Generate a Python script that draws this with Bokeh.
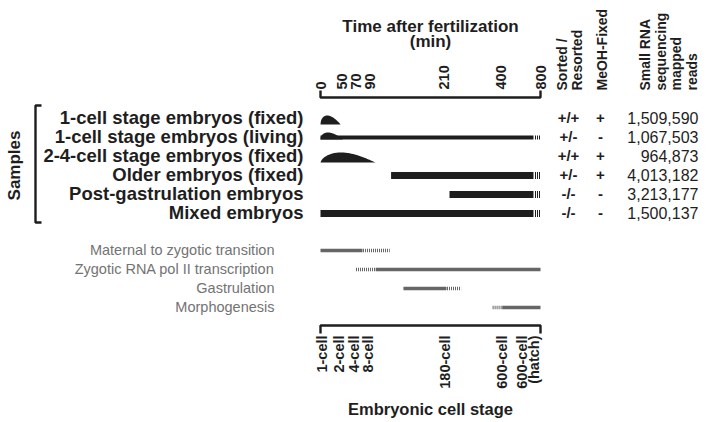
import numpy as np
from bokeh.plotting import figure
from bokeh.models import Range1d
from bokeh.core.properties import value
from bokeh.embed import file_html
from bokeh.resources import INLINE

# ---------------- data ----------------
time_ticks = [0, 50, 70, 90, 210, 400, 800]          # minutes after fertilization
stage_labels = ["1-cell", "2-cell", "4-cell", "8-cell", "180-cell", "600-cell", "600-cell\n(hatch)"]
stage_times = [0, 40, 65, 85, 210, 400, 800]

samples = ["1-cell stage embryos (fixed)", "1-cell stage embryos (living)",
           "2-4-cell stage embryos (fixed)", "Older embryos (fixed)",
           "Post-gastrulation embryos", "Mixed embryos"]
hump_end = [48, 52, 100, None, None, None]            # min (time-distribution hump)
hump_height = [9, 7, 10, 0, 0, 0]                     # relative size of hump
bar_start = [None, 0, None, 125, 230, 0]              # min
bar_solid_end = 730
bar_end = 800
sorted_resorted = ["+/+", "+/-", "+/+", "+/-", "-/-", "-/-"]
meoh_fixed = ["+", "-", "+", "+", "-", "-"]
mapped_reads = [1509590, 1067503, 964873, 4013182, 3213177, 1500137]

phases = ["Maternal to zygotic transition", "Zygotic RNA pol II transcription",
          "Gastrulation", "Morphogenesis"]
phase_solid = [(0, 80), (100, 800), (145, 220), (417, 800)]
phase_dashed = [(80, 122), (70, 100), (220, 267), (372, 417)]

# ---------------- layout helpers ----------------
W, H = 708, 422
AXIS_UNITS = [0, 21, 35, 49, 123, 180, 220]   # piecewise schematic time axis


def u(t):
    return np.interp(t, time_ticks, AXIS_UNITS)


def X(px):
    return px - 320


def Y(py):
    return H - py


FONT = value("Liberation Sans")
BLACK = "#1e1e1e"
GREY_BAR = "#666666"
GREY_TXT = "#737373"

p = figure(width=W, height=H, x_range=Range1d(-320, W - 320), y_range=Range1d(0, H),
           output_backend="svg", toolbar_location=None, min_border=0,
           x_axis_location=None, y_axis_location=None)
p.grid.visible = False
p.outline_line_color = None


def txt(x, y, t, size, bold=False, align="center", baseline="middle", angle=0,
        color=BLACK, lh=1.2):
    p.text(x=x, y=y, text=t, text_font=FONT, text_font_size=f"{size}px",
           text_font_style="bold" if bold else "normal", text_align=align,
           text_baseline=baseline, angle=angle, text_color=color,
           text_line_height=lh)


def striped(x0, x1, yc, width, color):
    # hatched (uncertain) end of a bar: thin vertical stripes
    p.segment(x0=[x0 + 0.5], y0=[yc], x1=[x1 + 0.5], y1=[yc],
              line_color=color, line_width=width, line_dash="1 1")


row_py = [117 + 19 * i for i in range(len(samples))]

# ---------------- brackets ----------------
lw = 2.4
p.line([u(0), u(0), u(800), u(800)], [Y(90), Y(97), Y(97), Y(90)], line_color=BLACK, line_width=lw)
p.line([u(0), u(0), u(800), u(800)], [Y(333), Y(325), Y(325), Y(333)], line_color=BLACK, line_width=lw)
p.line([X(41), X(35), X(35), X(41)], [Y(105), Y(105), Y(222), Y(222)], line_color=BLACK, line_width=lw)

# ---------------- sample rows ----------------
for i, py in enumerate(row_py):
    if bar_start[i] is not None:
        h = 4 if hump_end[i] is not None else 7
        yc = Y(py + 1)
        p.hbar(y=[yc], left=[u(bar_start[i])], right=[u(bar_solid_end)], height=h,
               fill_color=BLACK, line_color=None)
        striped(u(bar_solid_end) + 1, u(bar_end), yc, h, BLACK)
    if hump_end[i] is not None:
        if hump_end[i] > 60:
            a, b = 0.65, 1.1
        else:
            a, b = 0.5, 1.0
        s = np.linspace(0, 1, 80)
        f = s ** a * (1 - s) ** b
        f = f / f.max()
        x0, x1 = u(0), u(hump_end[i])
        base = py + 3 if bar_start[i] is not None else py + 7
        xs = list(x0 + s * (x1 - x0))
        ys = list(Y(base) + hump_height[i] * f)
        p.patch(xs, ys, fill_color=BLACK, line_color=None)

# ---------------- phase rows ----------------
phase_py = [250 + 19 * i for i in range(len(phases))]
for i, py in enumerate(phase_py):
    s0, s1 = phase_solid[i]
    d0, d1 = phase_dashed[i]
    p.hbar(y=[Y(py)], left=[u(s0)], right=[u(s1)], height=3.5, fill_color=GREY_BAR, line_color=None)
    striped(u(d0), u(d1), Y(py), 3.5, GREY_BAR)

# ---------------- texts ----------------
txt([X(430)], [Y(26)], ["Time after fertilization"], 17, bold=True)
txt([X(430)], [Y(41)], ["(min)"], 17, bold=True)
txt(list(u(time_ticks)), [Y(89)] * len(time_ticks), [str(t) for t in time_ticks], 14.5,
    bold=True, align="left", angle=np.pi / 2)

txt([X(569)], [Y(90)], ["Sorted /\nResorted"], 14, bold=True, align="left", angle=np.pi / 2, lh=0.9)
txt([X(601)], [Y(90)], ["MeOH-Fixed"], 14, bold=True, align="left", angle=np.pi / 2)
txt([X(668)], [Y(90)], ["Small RNA\nsequencing\nmapped\nreads"], 14, bold=True, align="left",
    angle=np.pi / 2, lh=0.97)

txt([X(303)] * len(samples), [Y(py) for py in row_py], samples, 18.5, bold=True, align="right")
txt([X(14)], [Y(165)], ["Samples"], 17, bold=True, angle=np.pi / 2)
txt([X(568)] * len(samples), [Y(py) for py in row_py], sorted_resorted, 15, bold=True)
txt([X(600)] * len(samples), [Y(py) for py in row_py], meoh_fixed, 15, bold=True)
txt([X(698)] * len(samples), [Y(py) for py in row_py], [f"{r:,}" for r in mapped_reads], 16,
    align="right")

txt([X(274)] * len(phases), [Y(py - 1) for py in phase_py], phases, 14.5, align="right", color=GREY_TXT)

txt(list(u(stage_times[:-1]) + 1.5), [Y(335)] * (len(stage_times) - 1), stage_labels[:-1], 14.5,
    bold=True, align="right", angle=np.pi / 2)
txt([u(stage_times[-1]) + 2], [Y(335)], [stage_labels[-1]], 14.5, bold=True, align="right",
    baseline="bottom", angle=np.pi / 2, lh=0.8)

txt([X(430)], [Y(408)], ["Embryonic cell stage"], 16.5, bold=True)

open("out.html", "w").write(file_html(p, INLINE))
